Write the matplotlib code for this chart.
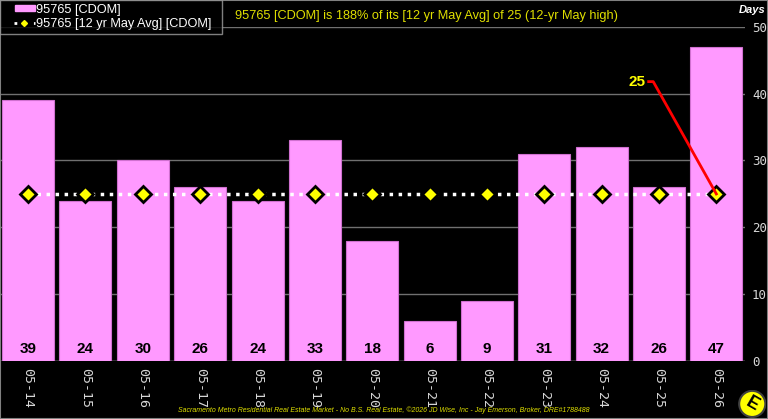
import matplotlib.pyplot as plt
from matplotlib.patches import Circle, Rectangle
from matplotlib.lines import Line2D
from matplotlib.legend_handler import HandlerPatch, HandlerLine2D

years = ["05-14", "05-15", "05-16", "05-17", "05-18", "05-19", "05-20",
         "05-21", "05-22", "05-23", "05-24", "05-25", "05-26"]
cdom = [39, 24, 30, 26, 24, 33, 18, 6, 9, 31, 32, 26, 47]
avg_cdom = [25] * 13

title = "95765 [CDOM] is 188% of its [12 yr May Avg] of 25 (12-yr May high)"
footer = ("Sacramento Metro Residential Real Estate Market - No B.S. Real Estate, "
          "\u00a92026 JD Wise, Inc - Jay Emerson, Broker, DRE#1788488")

pink = "#ff99ff"

fig = plt.figure(figsize=(7.68, 4.19), dpi=100, facecolor="black")
ax = fig.add_axes([0.0, 0.1384, 745 / 768, 0.7976])
ax.set_facecolor("black")

x = range(len(years))
ax.bar(x, cdom, width=0.907, color=pink, edgecolor="#d070d0", linewidth=0.8,
       zorder=2, label="95765 [CDOM]")
ax.plot(x, avg_cdom, linestyle=(0, (1, 1.6)), color="white", linewidth=2.5,
        marker="D", markersize=8, markerfacecolor="#ffff00",
        markeredgecolor="black", markeredgewidth=2, zorder=3)

for i, v in enumerate(cdom):
    ax.text(i, 1.8, str(v), ha="center", va="center", fontsize=11,
            fontweight="bold", color="black", family="Liberation Sans", zorder=4)

ax.set_xlim(-0.49, 12.5)
ax.set_ylim(0, 50)
ax.set_yticks([0, 10, 20, 30, 40, 50])
ax.yaxis.tick_right()
ax.grid(axis="y", color="#707070", linewidth=1, zorder=0)
ax.set_axisbelow(True)
ax.set_xticks(list(x))
ax.set_xticklabels(years, rotation=270, family="DejaVu Sans Mono",
                   fontsize=9.5, color="#d8d8d8")
ax.tick_params(axis="x", length=0, pad=5)
ax.tick_params(axis="y", length=0, pad=5, labelsize=9, labelcolor="#d8d8d8")
for lab in ax.get_yticklabels():
    lab.set_family("DejaVu Sans Mono")
for s in ax.spines.values():
    s.set_visible(False)
ax.axhline(0, color="#909090", linewidth=1, zorder=1)

# annotation arrow to latest avg
ax.plot([10.82, 10.9, 12], [41.8, 41.8, 25], color="red", linewidth=2, zorder=5)
ax.text(10.77, 41.8, "25", ha="right", va="center", fontsize=11,
        fontweight="bold", color="#ffff00", family="Liberation Sans", zorder=5)


def small_patch(legend, orig_handle, xdescent, ydescent, width, height, fontsize):
    return Rectangle((-xdescent + width * 0.35, -ydescent + height * 0.15),
                     width * 0.65, height * 0.7)


handles = [Rectangle((0, 0), 1, 1, facecolor=pink, edgecolor=pink),
           Line2D([0, 1], [0, 0], linestyle=(0, (1, 2.5)), color="white", linewidth=2,
                  marker="D", markersize=3, markerfacecolor="#ffff00",
                  markeredgecolor="#ffff00", markevery=[1])]
leg = fig.legend(handles, ["95765 [CDOM]", "95765 [12 yr May Avg] [CDOM]  "],
                 loc="upper left", bbox_to_anchor=(0.0, 1.0), frameon=True,
                 fancybox=False, facecolor="black", edgecolor="#a0a0a0",
                 labelcolor="white", prop={"family": "Liberation Sans", "size": 9.2},
                 handlelength=2.4, handletextpad=0.1, borderpad=0.3,
                 labelspacing=0.2, borderaxespad=0,
                 handler_map={Rectangle: HandlerPatch(patch_func=small_patch),
                              Line2D: HandlerLine2D(xpad=0.8)})
leg.get_frame().set_linewidth(1)

fig.text(0.555, 0.962, title, ha="center", va="center", color="#e0e000",
         fontsize=9.2, family="Liberation Sans")
fig.text(0.98, 0.975, "Days", ha="center", va="center", color="white",
         fontsize=8, fontweight="bold", style="italic", family="Liberation Sans")
fig.text(0.5, 0.02, footer, ha="center", va="center", color="#e0e000",
         fontsize=5, style="italic", family="Liberation Sans")

# logo
lax = fig.add_axes([0.961, 0.002, 0.037, 0.068])
lax.set_xlim(-1, 1)
lax.set_ylim(-1, 1)
lax.set_aspect("equal")
lax.axis("off")
lax.add_patch(Circle((0, 0), 0.92, facecolor="#ffff00", edgecolor="#404040", linewidth=1.5))
lax.text(0, 0, "E", ha="center", va="center", fontsize=13, fontweight="bold",
         color="black", rotation=-30, family="Liberation Sans")

fig.patches.append(Rectangle((0, 0), 1, 1, transform=fig.transFigure,
                             fill=False, edgecolor="#808080", linewidth=1.5))

fig.savefig("out.png", dpi=100, facecolor="black")
